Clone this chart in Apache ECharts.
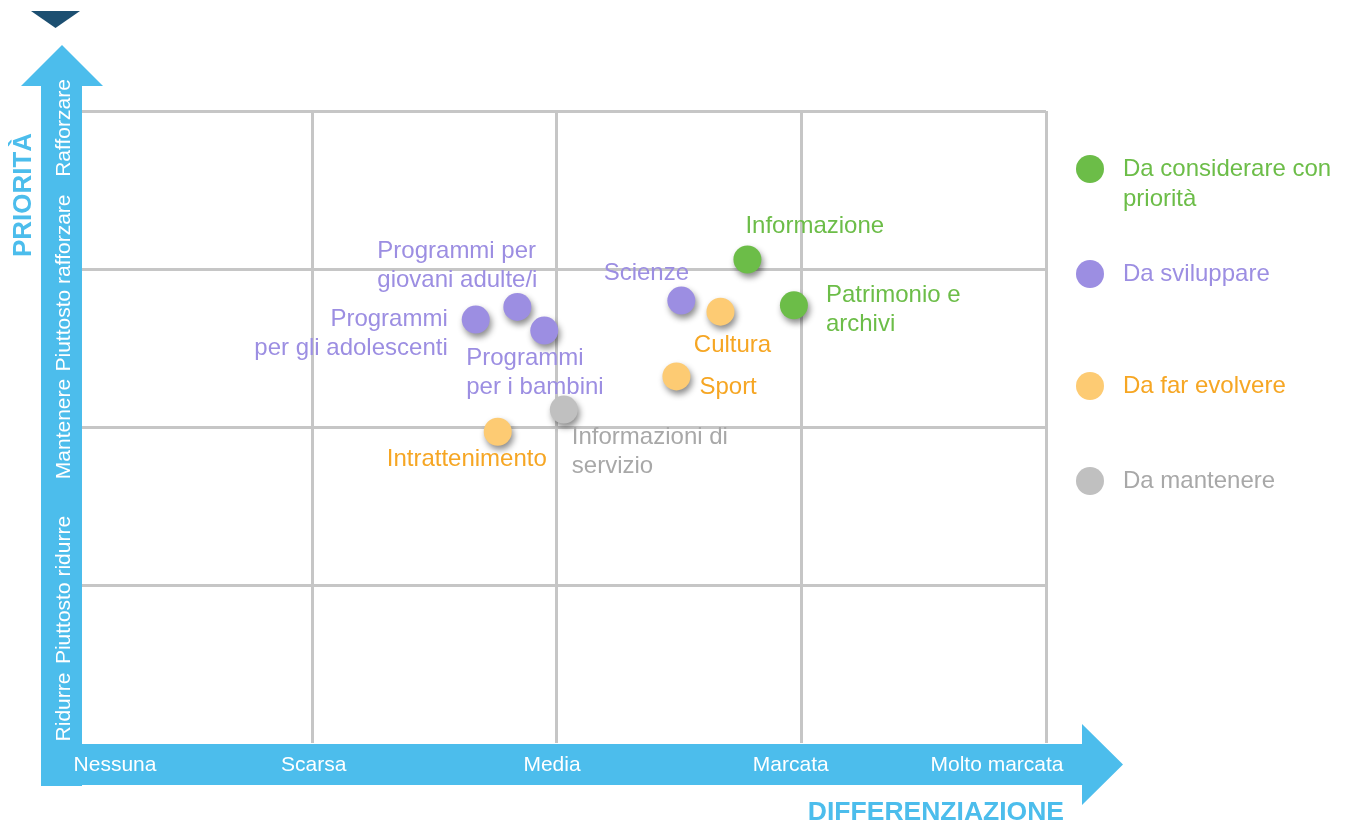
<!DOCTYPE html>
<html>
<head>
<meta charset="utf-8">
<script src="https://cdn.jsdelivr.net/npm/echarts@6/dist/echarts.min.js"></script>
<style>
  html, body { margin: 0; padding: 0; background: #ffffff; }
  #chart { width: 1349px; height: 825px; }
</style>
</head>
<body>
<div id="chart"></div>
<script>
// ---- data ----
const X_TICKS = ['Nessuna', 'Scarsa', 'Media', 'Marcata', 'Molto marcata'];
const Y_TICKS = ['Ridurre', 'Piuttosto ridurre', 'Mantenere', 'Piuttosto rafforzare', 'Rafforzare'];
const GROUPS = ['Da considerare con priorità', 'Da sviluppare', 'Da far evolvere', 'Da mantenere'];
const TOPICS = [
  'Informazione',
  'Patrimonio e archivi',
  'Scienze',
  'Cultura',
  'Sport',
  'Programmi per giovani adulte/i',
  'Programmi per gli adolescenti',
  'Programmi per i bambini',
  'Informazioni di servizio',
  'Intrattenimento'
];
const DIFFERENZIAZIONE = [2.78, 2.97, 2.51, 2.67, 2.49, 1.84, 1.67, 1.95, 2.03, 1.76];
const PRIORITA         = [3.06, 2.77, 2.80, 2.73, 2.32, 2.76, 2.68, 2.61, 2.11, 1.97];
const GROUP_OF         = [0, 0, 1, 2, 2, 1, 1, 1, 3, 2];

// ---- styling ----
const FONT = '"Liberation Sans", Arial, Helvetica, sans-serif';
const BLUE = '#4cbdec';
const NAVY = '#1c4f71';
const MARKER_COLORS = ['#6cbd48', '#9c8ee2', '#fdcb73', '#c0c0c0'];
const TEXT_COLORS   = ['#6cbd48', '#9c8ee2', '#f6a623', '#a8a8a8'];

// where each point's label sits (relative to the dot) and after how many words it wraps
const LABEL_LAYOUT = {
  'Informazione':                   { align: 'left',   offset: [-2, -33], breakAfter: 0 },
  'Patrimonio e archivi':           { align: 'left',   offset: [32, 5],   breakAfter: 2 },
  'Scienze':                        { align: 'center', offset: [-35, -27], breakAfter: 0 },
  'Cultura':                        { align: 'center', offset: [12, 34],  breakAfter: 0 },
  'Sport':                          { align: 'left',   offset: [23, 11],  breakAfter: 0 },
  'Programmi per giovani adulte/i': { align: 'left',   offset: [-140, -41], breakAfter: 2 },
  'Programmi per gli adolescenti':  { align: 'right',  offset: [-28, 14], breakAfter: 1 },
  'Programmi per i bambini':        { align: 'left',   offset: [-78, 42], breakAfter: 1 },
  'Informazioni di servizio':       { align: 'left',   offset: [8, 42],   breakAfter: 2 },
  'Intrattenimento':                { align: 'center', offset: [-31, 28], breakAfter: 0 }
};

// tick labels are nudged along the arrow bars (padding on the near/far side)
const X_LABEL_PAD = [[0, 0, 0, 96], [0, 0, 0, 4], [0, 9, 0, 0], [0, 21, 0, 0], [0, 98, 0, 0]];
const Y_LABEL_PAD = [[0, 0, 0, 72], [0, 10, 0, 0], [0, 4, 0, 0], [0, 28, 0, 0], [0, 34, 0, 0]];
const LEGEND_TOPS = [124, 259, 371, 466];

function wrap(text, n) {
  if (!n) return text;
  const w = text.split(' ');
  return w.slice(0, n).join(' ') + '\n' + w.slice(n).join(' ');
}

const xRich = {}, yRich = {};
X_LABEL_PAD.forEach((p, i) => { xRich['t' + i] = { padding: p }; });
Y_LABEL_PAD.forEach((p, i) => { yRich['t' + i] = { padding: p }; });

const chart = echarts.init(document.getElementById('chart'));

const gridAxis = {
  type: 'value', min: 0, max: 4, interval: 1, z: 0,
  axisLine: { show: false }, axisTick: { show: false }, axisLabel: { show: false },
  splitLine: { show: true, showMinLine: false, lineStyle: { color: '#c6c6c6', width: 3 } }
};

const option = {
  backgroundColor: '#ffffff',
  animation: false,
  grid: { left: 67, right: 303, top: 111, bottom: 82, containLabel: false },
  xAxis: [
    Object.assign({}, gridAxis, { position: 'bottom' }),
    {
      type: 'value', position: 'bottom', offset: 0, min: 0, max: 4, interval: 1, z: 10,
      axisLine: { show: false }, axisTick: { show: false }, splitLine: { show: false },
      axisLabel: {
        show: true, showMinLabel: true, showMaxLabel: true, margin: 12,
        color: '#ffffff', fontSize: 21, fontFamily: FONT,
        formatter: v => '{t' + v + '|' + X_TICKS[v] + '}', rich: xRich
      }
    }
  ],
  yAxis: [
    Object.assign({}, gridAxis, { position: 'left' }),
    {
      type: 'value', position: 'left', offset: 0, min: 0, max: 4, interval: 1, z: 10,
      axisLine: { show: false }, axisTick: { show: false }, splitLine: { show: false },
      axisLabel: {
        show: true, showMinLabel: true, showMaxLabel: true, margin: -8, rotate: 90,
        color: '#ffffff', fontSize: 21, fontFamily: FONT,
        formatter: v => '{t' + v + '|' + Y_TICKS[v] + '}', rich: yRich
      }
    }
  ],
  legend: GROUPS.map((g, gi) => ({
    data: [g], orient: 'vertical', left: 1076, top: LEGEND_TOPS[gi], padding: 0,
    itemWidth: 56, itemHeight: 28, icon: 'circle', selectedMode: false,
    itemStyle: { shadowBlur: 0, shadowOffsetX: 0, shadowOffsetY: 0, shadowColor: 'rgba(0,0,0,0)' },
    textStyle: { color: TEXT_COLORS[gi], fontSize: 24, fontFamily: FONT, lineHeight: 30, width: 215, overflow: 'break' },
    // a long entry wraps; the leading blank line keeps its first line level with the dot
    formatter: n => (gi === 0 ? '\n' : '') + n
  })),
  graphic: [
    { type: 'polygon', z: 5, shape: { points: [[41, 786], [41, 86], [21, 86], [62, 45], [103, 86], [82, 86], [82, 786]] }, style: { fill: BLUE } },
    { type: 'polygon', z: 5, shape: { points: [[41, 744], [1082, 744], [1082, 724], [1123, 764.5], [1082, 805], [1082, 785], [41, 785]] }, style: { fill: BLUE } },
    { type: 'polygon', z: 5, shape: { points: [[31, 11], [80, 11], [55.5, 28]] }, style: { fill: NAVY } },
    { type: 'text', z: 5, x: 24, y: 195, rotation: Math.PI / 2,
      style: { text: 'PRIORITÀ', fill: BLUE, font: 'bold 26px ' + FONT, align: 'center', verticalAlign: 'middle' } },
    { type: 'text', z: 5, x: 1064, y: 813,
      style: { text: 'DIFFERENZIAZIONE', fill: BLUE, font: 'bold 26.5px ' + FONT, align: 'right', verticalAlign: 'middle' } }
  ],
  series: GROUPS.map((g, gi) => ({
    name: g,
    type: 'scatter',
    xAxisIndex: 0, yAxisIndex: 0,
    z: 6,
    symbol: 'circle',
    symbolSize: 28,
    itemStyle: {
      color: MARKER_COLORS[gi], opacity: 1,
      shadowBlur: 6, shadowOffsetX: 2, shadowOffsetY: 4, shadowColor: 'rgba(0,0,0,0.45)'
    },
    label: {
      show: true, position: 'inside', verticalAlign: 'middle',
      color: TEXT_COLORS[gi], fontSize: 24, lineHeight: 29, fontFamily: FONT,
      textBorderWidth: 0, textBorderColor: 'transparent', textShadowBlur: 0
    },
    emphasis: { disabled: true },
    data: TOPICS.map((t, i) => ({ t, i }))
      .filter(o => GROUP_OF[o.i] === gi)
      .map(({ t, i }) => {
        const lay = LABEL_LAYOUT[t];
        return {
          name: t,
          value: [DIFFERENZIAZIONE[i], PRIORITA[i]],
          label: { formatter: wrap(t, lay.breakAfter), align: lay.align, offset: lay.offset }
        };
      })
  }))
};

chart.setOption(option);
</script>
</body>
</html>
